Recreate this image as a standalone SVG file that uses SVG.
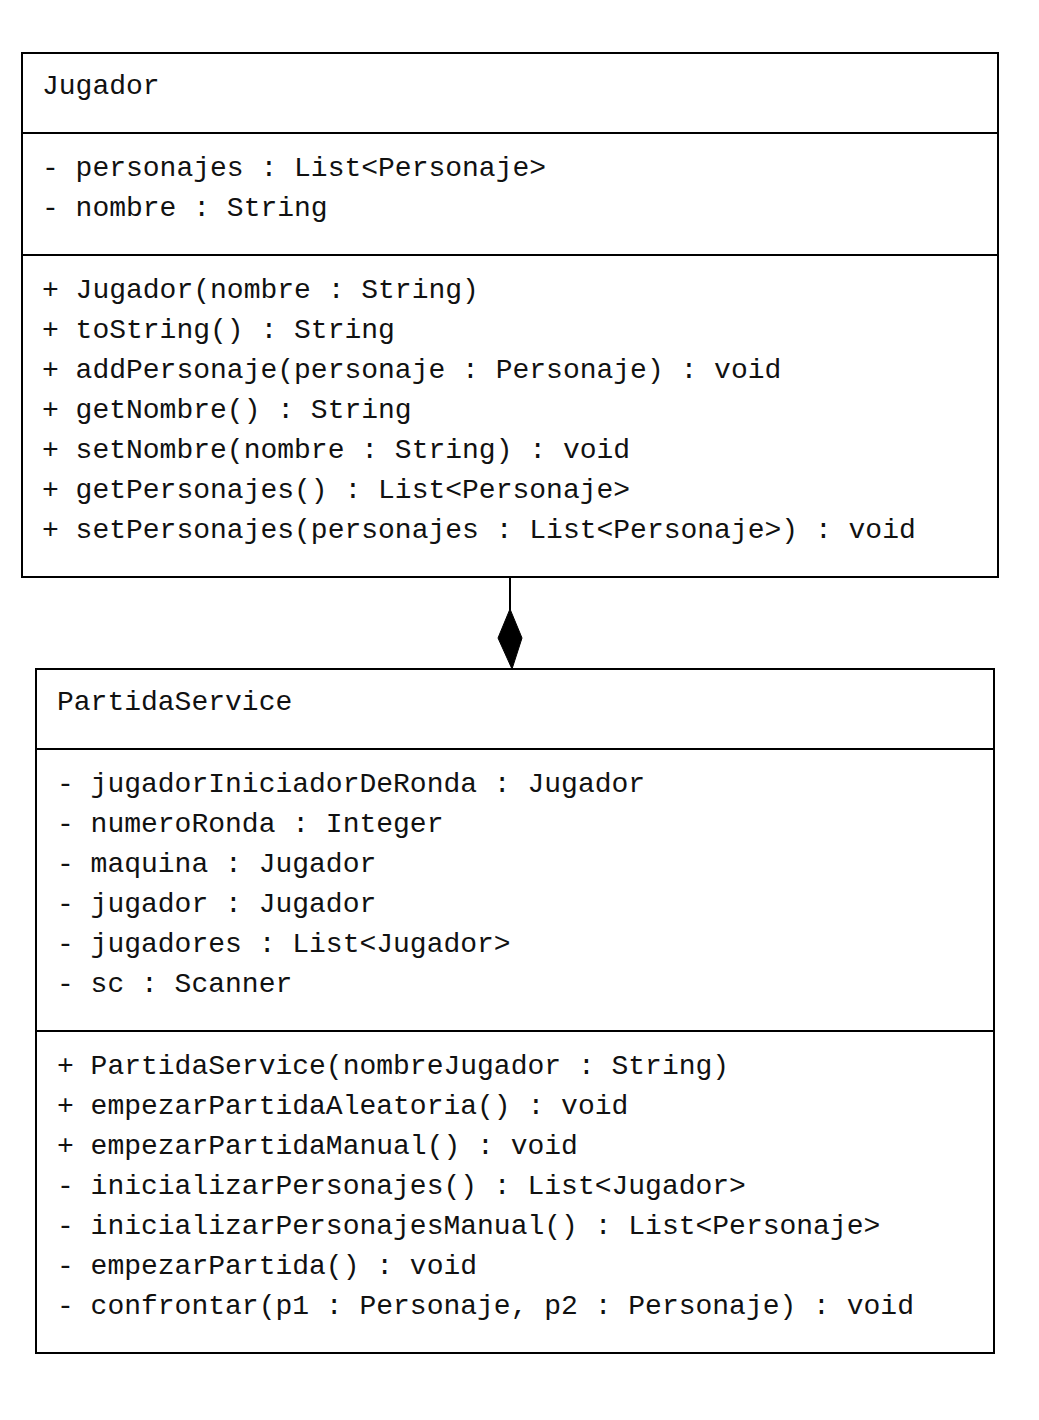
<svg xmlns="http://www.w3.org/2000/svg" width="1039" height="1420" viewBox="0 0 1039 1420">
<style>
.box{fill:#fff;stroke:#000;stroke-width:2}
.sep{stroke:#000;stroke-width:2}
text{font-family:"Liberation Mono","Courier New",monospace;font-size:28px;fill:#111;white-space:pre}
</style>
<rect width="1039" height="1420" fill="#fff"/>
<g id="connectors">
<line x1="510" y1="577" x2="510" y2="610" stroke="#000" stroke-width="2"/>
<polygon points="510,609 522,638 512,669 498,638" fill="#000" stroke="#000" stroke-width="1"/>
</g>
<g id="Jugador">
<rect class="box" x="22" y="53" width="976" height="524"/>
<line class="sep" x1="22" y1="133" x2="998" y2="133"/>
<line class="sep" x1="22" y1="255" x2="998" y2="255"/>
<text x="42" y="94">Jugador</text>
<text x="42" y="176">- personajes : List&lt;Personaje&gt;</text>
<text x="42" y="216">- nombre : String</text>
<text x="42" y="298">+ Jugador(nombre : String)</text>
<text x="42" y="338">+ toString() : String</text>
<text x="42" y="378">+ addPersonaje(personaje : Personaje) : void</text>
<text x="42" y="418">+ getNombre() : String</text>
<text x="42" y="458">+ setNombre(nombre : String) : void</text>
<text x="42" y="498">+ getPersonajes() : List&lt;Personaje&gt;</text>
<text x="42" y="538">+ setPersonajes(personajes : List&lt;Personaje&gt;) : void</text>
</g>
<g id="PartidaService">
<rect class="box" x="36" y="669" width="958" height="684"/>
<line class="sep" x1="36" y1="749" x2="994" y2="749"/>
<line class="sep" x1="36" y1="1031" x2="994" y2="1031"/>
<text x="57" y="710">PartidaService</text>
<text x="57" y="792">- jugadorIniciadorDeRonda : Jugador</text>
<text x="57" y="832">- numeroRonda : Integer</text>
<text x="57" y="872">- maquina : Jugador</text>
<text x="57" y="912">- jugador : Jugador</text>
<text x="57" y="952">- jugadores : List&lt;Jugador&gt;</text>
<text x="57" y="992">- sc : Scanner</text>
<text x="57" y="1074">+ PartidaService(nombreJugador : String)</text>
<text x="57" y="1114">+ empezarPartidaAleatoria() : void</text>
<text x="57" y="1154">+ empezarPartidaManual() : void</text>
<text x="57" y="1194">- inicializarPersonajes() : List&lt;Jugador&gt;</text>
<text x="57" y="1234">- inicializarPersonajesManual() : List&lt;Personaje&gt;</text>
<text x="57" y="1274">- empezarPartida() : void</text>
<text x="57" y="1314">- confrontar(p1 : Personaje, p2 : Personaje) : void</text>
</g>
</svg>
